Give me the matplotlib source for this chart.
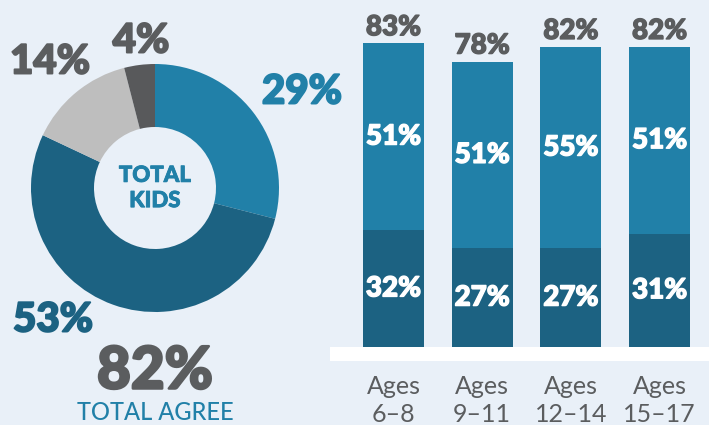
import matplotlib
matplotlib.use('Agg')
import matplotlib.pyplot as plt
from matplotlib import font_manager
import matplotlib.patheffects as pe

# Donut data (clockwise from top)
donut_labels = ['29%', '53%', '14%', '4%']
donut_values = [29, 53, 14, 4]
donut_total = '82%'

# Bar data
age_groups = ['Ages\n6\u20138', 'Ages\n9\u201311', 'Ages\n12\u201314', 'Ages\n15\u201317']
bottom_vals = [32, 27, 27, 31]
top_vals = [51, 51, 55, 51]
totals = [83, 78, 82, 82]

BG = '#e9f0f8'
MID = '#2180a8'
DARK = '#1c6282'
LGRAY = '#bebebe'
DGRAY = '#58595b'
TXT = '#5b5d5f'


#pick a Lato file by name, fall back to weight
def lato(fn, size, weight='normal'):
    for f in font_manager.fontManager.ttflist:
        if f.fname.endswith('/' + fn):
            return font_manager.FontProperties(fname=f.fname, size=size)
    return font_manager.FontProperties(family='Lato', weight=weight, size=size)


#thicken glyphs a little, the original font is heavier than Lato
def fat(c, lw=1.0):
    return [pe.withStroke(linewidth=lw, foreground=c)]


plt.rcParams['font.family'] = ['Lato', 'DejaVu Sans']

W, H = 709, 425
fig = plt.figure(figsize=(W / 100, H / 100), dpi=100)
fig.patch.set_facecolor(BG)

# bars: baseline at y=347 px, 3.66 px per percent
ppp = 3.66
band = 14
x0, x1 = 330, 709
ax2 = fig.add_axes([x0 / W, (H - 347 - band) / H, (x1 - x0) / W, (347 + band) / H])
ax2.patch.set_visible(False)
spacing = 88.7
xs = list(range(len(age_groups)))
bw = 61 / spacing
ax2.bar(xs, bottom_vals, width=bw, color=DARK, linewidth=0)
ax2.bar(xs, top_vals, width=bw, bottom=bottom_vals, color=MID, linewidth=0)
ax2.set_xlim((x0 - 393.5) / spacing, (x1 - 393.5) / spacing)
ax2.set_ylim(-band / ppp, 347 / ppp)
ax2.axhspan(-band / ppp, 0, color='white', linewidth=0)

num = lato('Lato-Black.ttf', 20, 'black')
for i in xs:
    ax2.text(i, bottom_vals[i] / 2, f'{bottom_vals[i]}%', ha='center', va='center',
             fontproperties=num, color='white', path_effects=fat('white'))
    ax2.text(i, bottom_vals[i] + top_vals[i] / 2, f'{top_vals[i]}%', ha='center',
             va='center', fontproperties=num, color='white', path_effects=fat('white'))
    ax2.text(i, totals[i] + 0.8, f'{totals[i]}%', ha='center', va='bottom',
             fontproperties=num, color=TXT, path_effects=fat(TXT))

for s in ax2.spines.values():
    s.set_visible(False)
ax2.set_yticks([])
ax2.set_xticks(xs)
ax2.set_xticklabels(age_groups, fontproperties=lato('Lato-Regular.ttf', 18),
                    color=TXT, linespacing=1.25)
ax2.tick_params(axis='x', length=0, pad=10)

#donut: center (155,188) px, outer r 124, inner r 61
cx, cy, half = 155, 188, 130
ax1 = fig.add_axes([(cx - half) / W, (H - cy - half) / H, 2 * half / W, 2 * half / H])
ax1.axis('off')
ax1.pie(donut_values, colors=[MID, DARK, LGRAY, DGRAY], startangle=90,
        counterclock=False, radius=124,
        wedgeprops=dict(width=63, linewidth=0))
ax1.set_xlim(-half, half)
ax1.set_ylim(-half, half)

lab_pos = [(147, 96), (-102, -132), (-105, 126), (-14, 147)]
lab_col = [MID, DARK, TXT, TXT]
big = lato('Lato-Black.ttf', 29, 'black')
for t, (x, y), c in zip(donut_labels, lab_pos, lab_col):
    ax1.text(x, y, t, ha='center', va='center', fontproperties=big,
             color=c, clip_on=False, path_effects=fat(c, 1.4))
ax1.text(0, 0, 'TOTAL\nKIDS', ha='center', va='center',
         fontproperties=lato('Lato-Black.ttf', 16, 'black'), color=MID,
         linespacing=1.25, path_effects=fat(MID, 0.6))

fig.text(cx / W, 1 - 372 / H, donut_total, ha='center', va='center',
         fontproperties=lato('Lato-Black.ttf', 42, 'black'), color=TXT,
         path_effects=fat(TXT, 1.8))
fig.text(cx / W, 1 - 413 / H, 'TOTAL AGREE', ha='center', va='center',
         fontproperties=lato('Lato-Medium.ttf', 17), color=MID)

fig.savefig('out.png', dpi=100, facecolor=BG)
